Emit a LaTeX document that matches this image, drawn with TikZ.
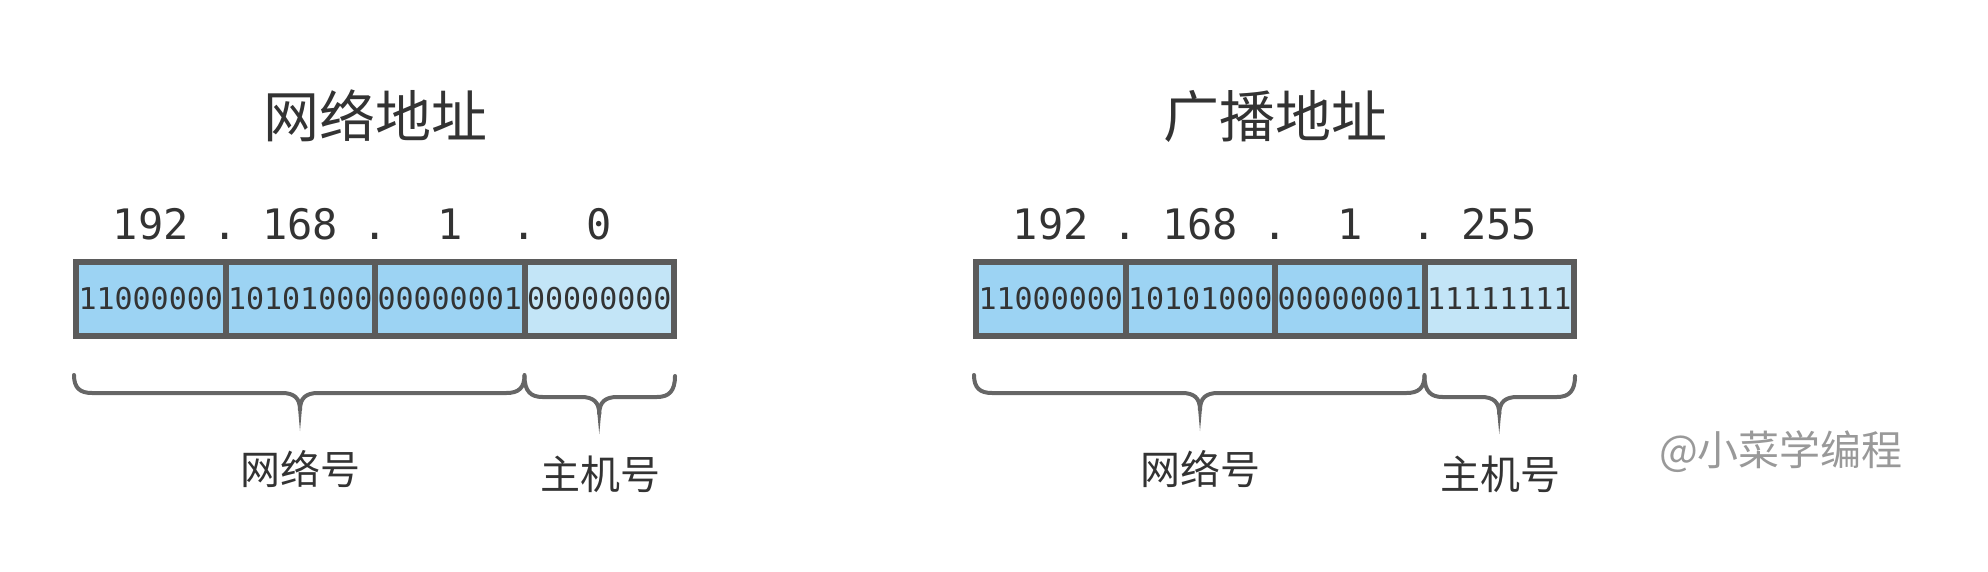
\documentclass[tikz,border=0pt]{standalone}
\usepackage{fontspec}
\setmainfont{DejaVu Sans}
\newfontfamily\cjk{Noto Sans CJK SC}
\newfontfamily\mono{DejaVu Sans Mono}
\definecolor{textdark}{HTML}{333333}
\definecolor{bordergray}{HTML}{5B5B5B}
\definecolor{bracegray}{HTML}{666666}
\definecolor{cellblue}{HTML}{9CD3F3}
\definecolor{celllight}{HTML}{C3E5F7}
\definecolor{markgray}{HTML}{999999}
\newcommand\mypanel[5]{%
\begin{scope}[xshift=#2]
  \node[titletext] (#1title) at (375,138) {#3};
  \node[octet] (#1o1) at (150.75,240) {192};
  \node[octet] (#1d1) at (225.5,240) {.};
  \node[octet] (#1o2) at (300.25,240) {168};
  \node[octet] (#1d2) at (375,240) {.};
  \node[octet] (#1o3) at (449.75,240) {1};
  \node[octet] (#1d3) at (524.5,240) {.};
  \node[octet] (#1o4) at (599.25,240) {#4};
  \node[netcell] (#1c1) at (150.75,299) {11000000};
  \node[netcell] (#1c2) at (300.25,299) {10101000};
  \node[netcell] (#1c3) at (449.75,299) {00000001};
  \node[hostcell] (#1c4) at (599.25,299) {#5};
  \draw[brace] (74,375) .. controls (74,388) and (80,393) .. (92,393) -- (282,393)
     .. controls (294,393) and (300,398) .. (300,410)
     .. controls (300,398) and (306,393) .. (318,393) -- (506.5,393)
     .. controls (518.5,393) and (524.5,388) .. (524.5,375);
  \fill[bracegray] (298,408) -- (302,408) -- (300,431) -- cycle;
  \draw[brace] (524.5,376) .. controls (524.5,391) and (530.5,397) .. (542.5,397) -- (581.25,397)
     .. controls (593.25,397) and (599.25,402) .. (599.25,414)
     .. controls (599.25,402) and (605.25,397) .. (617.25,397) -- (657,397)
     .. controls (669,397) and (675,391) .. (675,376);
  \fill[bracegray] (597.25,412) -- (601.25,412) -- (599.25,434) -- cycle;
  \node[lbl] (#1net) at (300,484) {网络号};
  \node[lbl] (#1host) at (600,489) {主机号};
\end{scope}}
\begin{document}
\begin{tikzpicture}[x=1pt,y=-1pt,
  cell/.style={draw=bordergray, line width=6pt, minimum width=149.5pt, minimum height=74pt,
    inner sep=0pt, text=textdark, font=\mono\fontsize{30}{30}\selectfont},
  netcell/.style={cell, fill=cellblue},
  hostcell/.style={cell, fill=celllight},
  titletext/.style={anchor=base, inner sep=0pt, text=textdark, font=\cjk\fontsize{56}{60}\selectfont},
  octet/.style={anchor=base, inner sep=0pt, text=textdark, font=\mono\fontsize{42}{42}\selectfont},
  lbl/.style={anchor=base, inner sep=0pt, text=textdark, font=\cjk\fontsize{40}{44}\selectfont},
  brace/.style={draw=bracegray, line width=4pt, line cap=round, line join=round}]
\useasboundingbox (0,0) rectangle (1988,572);
\mypanel{L}{0pt}{网络地址}{0}{00000000}
\mypanel{R}{900pt}{广播地址}{255}{11111111}
\node[anchor=base, inner sep=0pt, text=markgray, font=\cjk\fontsize{41}{44}\selectfont] (wm) at (1781,465) {@小菜学编程};
\end{tikzpicture}
\end{document}
